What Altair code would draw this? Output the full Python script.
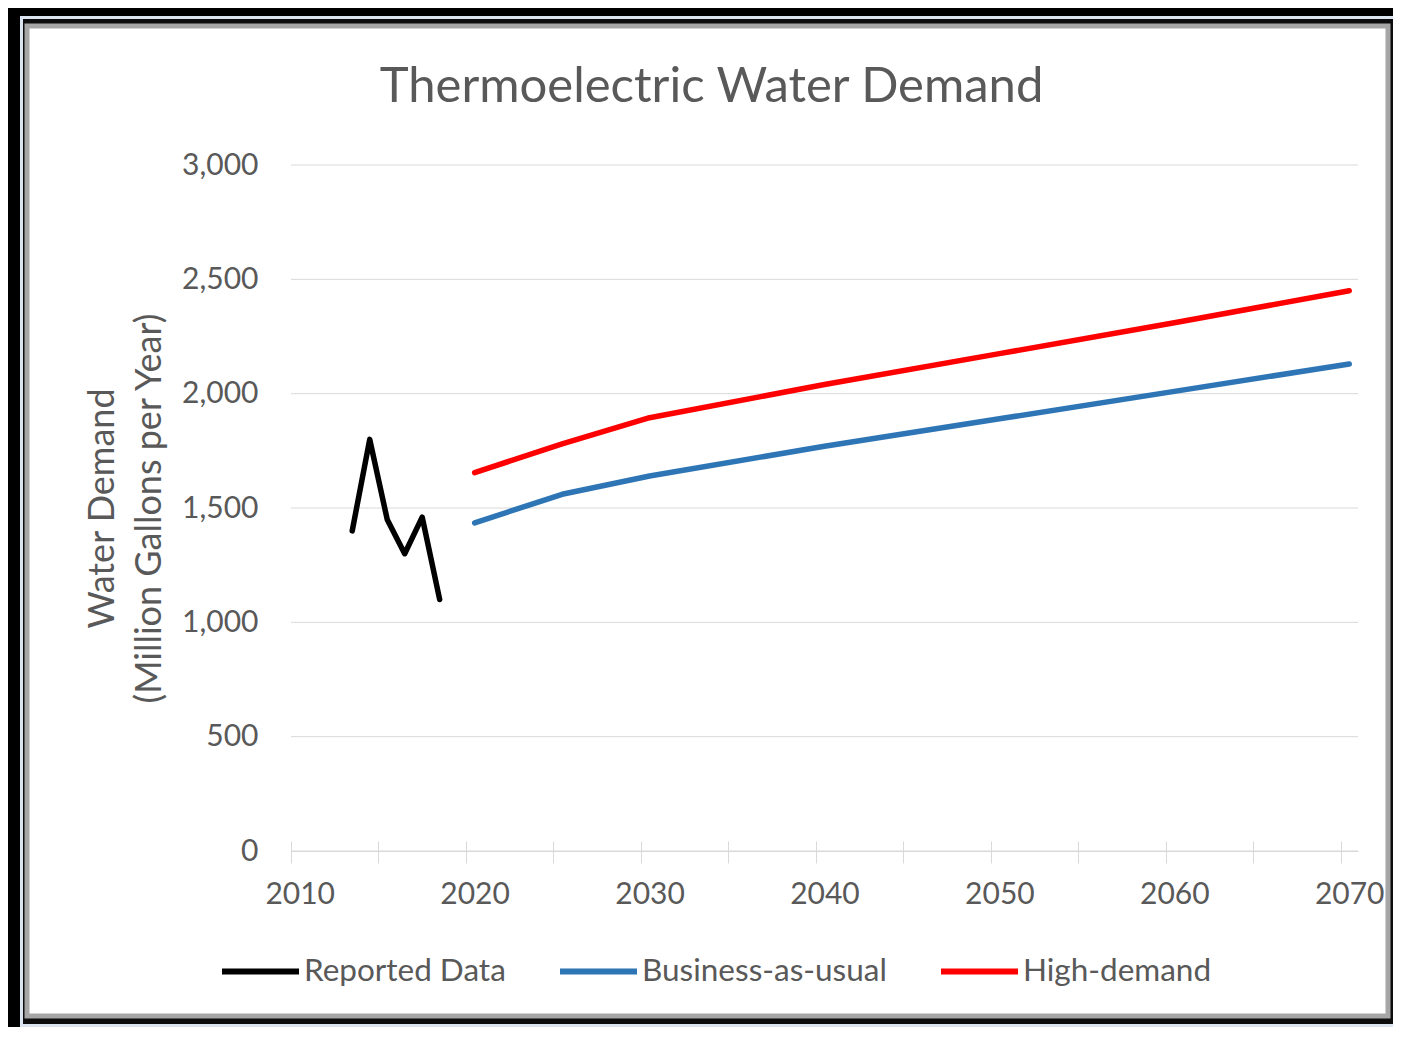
import altair as alt
import pandas as pd

# ---- data ----
series_names = ["Reported Data", "Business-as-usual", "High-demand"]
series_colors = ["#000000", "#2e75b6", "#ff0000"]

reported_years = [2013, 2014, 2015, 2016, 2017, 2018]
reported_values = [1400, 1800, 1450, 1300, 1460, 1100]

projection_years = [2020, 2025, 2030, 2040, 2050, 2060, 2070]
bau_values = [1435, 1560, 1640, 1770, 1890, 2010, 2130]
high_values = [1655, 1780, 1895, 2040, 2175, 2310, 2450]

y_ticks = [0, 500, 1000, 1500, 2000, 2500, 3000]
x_ticks = [2010, 2015, 2020, 2025, 2030, 2035, 2040, 2045, 2050, 2055, 2060, 2065, 2070]

rows = []
for yr, v in zip(reported_years, reported_values):
    rows.append({"series": series_names[0], "year": yr, "value": v})
for yr, v in zip(projection_years, bau_values):
    rows.append({"series": series_names[1], "year": yr, "value": v})
for yr, v in zip(projection_years, high_values):
    rows.append({"series": series_names[2], "year": yr, "value": v})
df = pd.DataFrame(rows)
grid_df = pd.DataFrame({"value": y_ticks})

TEXT = "#595959"
GRID = "#d9d9d9"
FONT = "Lato"
W, H = 1067, 686

x_scale = alt.Scale(domain=[2010, 2071], nice=False, zero=False)
y_scale = alt.Scale(domain=[0, 3000], nice=False)

y_axis = alt.Axis(
    values=y_ticks,
    labelExpr="format(datum.value, ',d')",
    grid=False,
    domain=False,
    ticks=False,
    tickSize=0,
    labelFontSize=30,
    labelPadding=33,
    title=["Water Demand", "(Million Gallons per Year)"],
    titleFontSize=36,
    titleFontWeight="normal",
    titleX=-178,
    titleY=H / 2,
    titleAngle=270,
    titleAlign="center",
    titleBaseline="alphabetic",
    titleLineHeight=47,
    zindex=1,
)

# horizontal gridlines (behind the lines)
grid = alt.Chart(grid_df).mark_rule(color=GRID, strokeWidth=1).encode(
    y=alt.Y("value:Q", scale=y_scale, axis=y_axis)
)

# years are drawn in the middle of their one-year slot, as in the source
base = alt.Chart(df).transform_calculate(xpos="datum.year + 0.5")

lines = base.mark_line(strokeWidth=5.5, strokeCap="round", strokeJoin="round").encode(
    x=alt.X(
        "xpos:Q",
        scale=x_scale,
        axis=alt.Axis(
            orient="bottom",
            values=x_ticks,
            labelExpr="datum.value % 10 === 0 ? '' + datum.value : ''",
            grid=False,
            domain=True,
            domainColor=GRID,
            domainWidth=1,
            ticks=True,
            tickSize=12,
            tickColor=GRID,
            labelFontSize=30,
            labelPadding=16,
            labelOffset=8.7,
            labelFlush=False,
            labelOverlap=False,
            title=None,
            zindex=1,
        ),
    ),
    y=alt.Y("value:Q", scale=y_scale, axis=y_axis),
    color=alt.Color(
        "series:N",
        scale=alt.Scale(domain=series_names, range=series_colors),
        legend=alt.Legend(
            orient="none",
            legendX=-72,
            legendY=765,
            direction="horizontal",
            title=None,
            symbolType="stroke",
            symbolSize=5929,
            symbolStrokeWidth=6,
            labelFontSize=31.5,
            labelFont=FONT,
            labelColor=TEXT,
            labelOffset=2,
            labelLimit=500,
            columnPadding=42,
            padding=0,
            zindex=1,
        ),
    ),
)

# second x axis placed on the baseline, so that the tick marks cross it
ticks_up = base.mark_point(opacity=0).encode(
    x=alt.X(
        "xpos:Q",
        scale=x_scale,
        axis=alt.Axis(
            orient="top",
            offset=-H,
            values=x_ticks,
            labels=False,
            domain=False,
            grid=False,
            ticks=True,
            tickSize=10,
            tickColor=GRID,
            title=None,
            zindex=1,
        ),
    ),
    y=alt.Y("value:Q", scale=y_scale, axis=y_axis),
)

# picture frame (decoration)
frame_df = pd.DataFrame({"k": [0]})
frame_a = alt.Chart(frame_df).mark_rect(color="#dbe5f1").encode(
    x=alt.value(-271), x2=alt.value(1102), y=alt.value(-149), y2=alt.value(862)
)
frame_b = alt.Chart(frame_df).mark_rect(color="#0d0d0d").encode(
    x=alt.value(-268), x2=alt.value(1102), y=alt.value(-146), y2=alt.value(859)
)
frame_c = alt.Chart(frame_df).mark_rect(
    color="#ffffff", stroke="#a6a6a6", strokeWidth=5
).encode(
    x=alt.value(-264), x2=alt.value(1097), y=alt.value(-139), y2=alt.value(851)
)

chart = (
    alt.layer(frame_a, frame_b, frame_c, grid, lines, ticks_up)
    .resolve_axis(x="independent")
    .properties(
        width=W,
        height=H,
        padding={"left": 12, "top": 8, "right": 0, "bottom": 0},
        background="#000000",
        title=alt.Title(
            "Thermoelectric Water Demand",
            fontSize=49,
            font=FONT,
            color=TEXT,
            fontWeight="normal",
            offset=-135,
            baseline="alphabetic",
            anchor="middle",
            dx=-113,
        ),
    )
    .configure_view(stroke=None)
    .configure_axis(labelFont=FONT, titleFont=FONT, labelColor=TEXT, titleColor=TEXT)
)

chart.save("out.html", embed_options={"renderer": "svg", "actions": False})
